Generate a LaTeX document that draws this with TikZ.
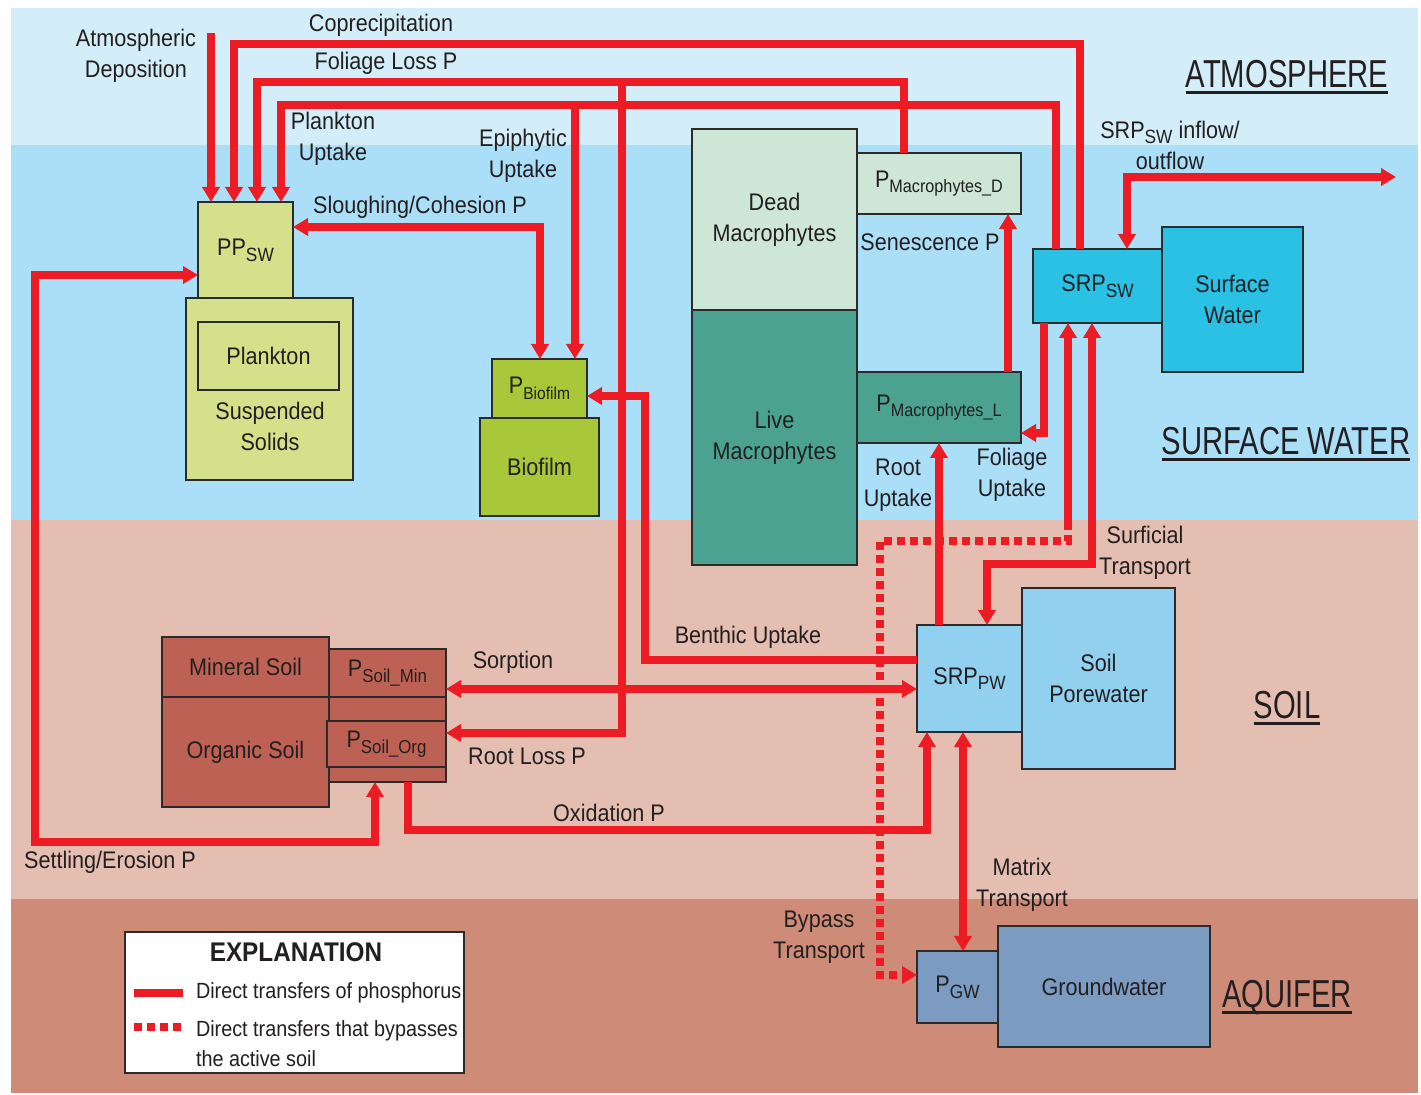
\documentclass[tikz,border=0pt]{standalone}
\usepackage{fontspec}
\setmainfont[FakeStretch=0.9]{Liberation Sans}
\newfontfamily\titlefont[FakeStretch=0.75]{Liberation Sans}
\usetikzlibrary{arrows.meta}
\definecolor{atmc}{HTML}{D4EEF9}
\definecolor{swc}{HTML}{ABDFF8}
\definecolor{soilc}{HTML}{E4BEB1}
\definecolor{aqc}{HTML}{CE8C78}
\definecolor{redc}{HTML}{ED1C24}
\definecolor{txt}{HTML}{231F20}
\definecolor{edge}{HTML}{2B2B2B}
\definecolor{ppc}{HTML}{D4E08A}
\definecolor{bioc}{HTML}{A8C83A}
\definecolor{deadc}{HTML}{CDE6D5}
\definecolor{livec}{HTML}{4CA290}
\definecolor{srpswc}{HTML}{2AC1E5}
\definecolor{srppwc}{HTML}{91D0EE}
\definecolor{soilbox}{HTML}{BE6155}
\definecolor{gwc}{HTML}{7B9BC0}
\newcommand\subt[2][0.8]{\raisebox{-0.45ex}{\scalebox{#1}{#2}}}
\begin{document}
\begin{tikzpicture}[x=0.5pt,y=-0.5pt,
  every node/.style={text=txt, font=\fontsize{12}{15.5}\selectfont, inner sep=0pt, outer sep=0pt},
  box/.style={draw=edge, line width=1pt, align=center},
  lbl/.style={align=center},
  ttl/.style={anchor=base, font=\titlefont\fontsize{19.5}{20}\selectfont},
  flow/.style={draw=redc, line width=4.2pt},
  tip/.tip={Triangle[width=8.5pt,length=7.5pt]},
  arr/.style={flow, -tip},
  dbl/.style={flow, tip-tip},
  dotflow/.style={draw=redc, line width=3.8pt, dash pattern=on 4pt off 2.5pt},
  dotarr/.style={dotflow, -tip}]
\useasboundingbox (0,0) rectangle (1421,1095);
% backgrounds
\fill[white] (0,0) rectangle (1421,1095);
\fill[atmc] (11,8) rectangle (1418,145);
\fill[swc] (11,145) rectangle (1418,520);
\fill[soilc] (11,520) rectangle (1418,899);
\fill[aqc] (11,899) rectangle (1418,1093);

% titles
\node[ttl] (tatm) at (1287,88) {ATMOSPHERE};
\node[ttl] (tsw) at (1286,455) {SURFACE WATER};
\node[ttl] (tsoil) at (1287,719) {SOIL};
\node[ttl] (taq) at (1287,1008) {AQUIFER};
\foreach \t in {tatm,tsw,tsoil,taq}
  \draw[txt, line width=1.5pt] ([yshift=-2.5pt]\t.base west) -- ([yshift=-2.5pt]\t.base east);

% boxes
\node[box, fill=ppc, minimum width=83.5pt, minimum height=91pt] (ss) at (269.5,389) {};
\node[box, fill=ppc, minimum width=47.5pt, minimum height=48pt] (ppsw) at (245.5,250) {PP\subt{SW}};
\node[box, fill=ppc, minimum width=70.5pt, minimum height=34pt] (plank) at (268.5,356) {Plankton};
\node[lbl] (sslbl) at (270,426) {Suspended\\Solids};
\node[box, fill=bioc, minimum width=47.5pt, minimum height=29.5pt] (pbio) at (539.5,388.5) {P\subt[0.72]{Biofilm}};
\node[box, fill=bioc, minimum width=59.5pt, minimum height=49pt] (bio) at (539.5,467) {Biofilm};
\node[box, fill=deadc, minimum width=82.5pt, minimum height=90.5pt] (dead) at (774.5,219.5) {Dead\\Macrophytes};
\node[box, fill=livec, minimum width=82.5pt, minimum height=127.5pt] (live) at (774.5,437.5) {Live\\Macrophytes};
\node[box, fill=deadc, minimum width=82pt, minimum height=30.5pt] (pmd) at (939,183.5) {P\subt[0.75]{Macrophytes\_D}};
\node[box, fill=livec, minimum width=82pt, minimum height=35.5pt] (pml) at (939,407.5) {P\subt[0.75]{Macrophytes\_L}};
\node[box, fill=srpswc, minimum width=64.5pt, minimum height=37pt] (srpsw) at (1097.5,286) {SRP\subt{SW}};
\node[box, fill=srpswc, minimum width=70.5pt, minimum height=72.5pt] (sw) at (1232.5,299.5) {Surface\\Water};
\node[box, fill=srppwc, minimum width=52.5pt, minimum height=53.5pt] (srppw) at (969.5,678.5) {SRP\subt{PW}};
\node[box, fill=srppwc, minimum width=76.5pt, minimum height=90.5pt] (spw) at (1098.5,678.5) {Soil\\Porewater};
\node[box, fill=gwc, minimum width=40.5pt, minimum height=36pt] (pgw) at (957.5,987) {P\subt{GW}};
\node[box, fill=gwc, minimum width=106pt, minimum height=60.5pt] (gw) at (1104,986.5) {Groundwater};
\node[box, fill=soilbox, minimum width=83.5pt, minimum height=30pt] (mineral) at (245.5,667) {Mineral Soil};
\node[box, fill=soilbox, minimum width=83.5pt, minimum height=55pt] (organic) at (245.5,752) {Organic Soil};
\node[box, fill=soilbox, minimum width=58.5pt, minimum height=66.5pt] (psoil) at (387.5,715.5) {};
\node[box, fill=soilbox, minimum width=58.5pt, minimum height=24pt] (psmin) at (387.5,673) {P\subt[0.78]{Soil\_Min}};
\node[box, fill=soilbox, minimum width=59.5pt, minimum height=23pt] (psorg) at (386.5,744) {P\subt[0.78]{Soil\_Org}};

% connector coordinates
\coordinate (atmS) at (211,33);
\coordinate (cpL) at (234,44);
\coordinate (cpR) at (1080,44);
\coordinate (flL) at (257,82);
\coordinate (flR) at (904,82);
\coordinate (flB) at (622,82);
\coordinate (rlC) at (622,733);
\coordinate (puL) at (281,105);
\coordinate (puR) at (1056,105);
\coordinate (epi) at (575,105);
\coordinate (slR) at (540,227);
\coordinate (seA) at (35,275);
\coordinate (seB) at (35,842);
\coordinate (seC) at (375,842);
\coordinate (beA) at (645,660);
\coordinate (beB) at (645,396);
\coordinate (soY) at (500,689);
\coordinate (oxA) at (408,830);
\coordinate (oxB) at (927,830);
\coordinate (ru) at (939,550);
\coordinate (sen) at (1008,300);
\coordinate (fuA) at (1044,433);
\coordinate (stA) at (1092,564);
\coordinate (stB) at (987,564);
\coordinate (byA) at (1068,522);
\coordinate (byB) at (1068,541);
\coordinate (byC) at (880,541);
\coordinate (byD) at (880,975);
\coordinate (mt) at (963,850);
\coordinate (ioA) at (1127,177);
\coordinate (ioB) at (1396,177);

% connectors
\draw[arr] (atmS) -- (atmS |- ppsw.north);
\draw[arr] (cpR |- srpsw.north) -- (cpR) -- (cpL) -- (cpL |- ppsw.north);
\draw[arr] (flR |- pmd.north) -- (flR) -- (flL) -- (flL |- ppsw.north);
\draw[arr] (flB) -- (rlC) -- (rlC -| psorg.east);
\draw[arr] (puR |- srpsw.north) -- (puR) -- (puL) -- (puL |- ppsw.north);
\draw[arr] (epi) -- (epi |- pbio.north);
\draw[dbl] (slR -| ppsw.east) -- (slR) -- (slR |- pbio.north);
\draw[dbl] (seA -| ppsw.west) -- (seA) -- (seB) -- (seC) -- (seC |- psoil.south);
\draw[arr] (beA -| srppw.west) -- (beA) -- (beB) -- (beB -| pbio.east);
\draw[dbl] (soY -| psmin.east) -- (soY -| srppw.west);
\draw[arr] (oxA |- psoil.south) -- (oxA) -- (oxB) -- (oxB |- srppw.south);
\draw[arr] (ru |- srppw.north) -- (ru |- pml.south);
\draw[arr] (sen |- pml.north) -- (sen |- pmd.south);
\draw[arr] (fuA |- srpsw.south) -- (fuA) -- (fuA -| pml.east);
\draw[dbl] (stA |- srpsw.south) -- (stA) -- (stB) -- (stB |- srppw.north);
\draw[flow, tip-] (byA |- srpsw.south) -- (byA);
\draw[dotarr] (byA) -- (byB) -- (byC) -- (byD) -- (byD -| pgw.west);
\draw[dbl] (mt |- srppw.south) -- (mt |- pgw.north);
\draw[dbl] (ioA |- srpsw.north) -- (ioA) -- (ioB);

% labels
\node[lbl] (lAtm) at (136,56) {Atmospheric\\Deposition};
\node (lCop) at (381,25) {Coprecipitation};
\node (lFol) at (386,63) {Foliage Loss P};
\node[lbl] (lPlk) at (333,139) {Plankton\\Uptake};
\node[lbl] (lEpi) at (523,156) {Epiphytic\\Uptake};
\node (lSlo) at (420,207) {Sloughing/Cohesion P};
\node (lSen) at (930,242) {Senescence P};
\node[lbl] (lIO) at (1170,145) {SRP\subt{SW} inflow/\\outflow};
\node[lbl] (lRoot) at (898,485) {Root\\Uptake};
\node[lbl] (lFU) at (1012,475) {Foliage\\Uptake};
\node[lbl] (lSurf) at (1145,553) {Surficial\\Transport};
\node (lBen) at (748,637) {Benthic Uptake};
\node (lSorp) at (513,662) {Sorption};
\node (lRL) at (527,756) {Root Loss P};
\node (lOx) at (609,813) {Oxidation P};
\node (lSet) at (110,862) {Settling/Erosion P};
\node[lbl] (lBy) at (819,937) {Bypass\\Transport};
\node[lbl] (lMat) at (1022,885) {Matrix\\Transport};

% legend
\node[draw=edge, line width=1pt, fill=white, minimum width=169.5pt, minimum height=70.5pt] (legend) at (294.5,1002.5) {};
\node[font=\bfseries\fontsize{13.5}{15}\selectfont] (lgT) at (296,952) {EXPLANATION};
\coordinate (lgA) at (134,993);
\coordinate (lgB) at (183,993);
\coordinate (lgC) at (134,1027);
\coordinate (lgD) at (183,1027);
\draw[flow] (lgA) -- (lgB);
\draw[dotflow] (lgC) -- (lgD);
\node[anchor=west, font=\fontsize{11}{15}\selectfont] (lg1) at (196,993) {Direct transfers of phosphorus};
\node[anchor=west, align=left, font=\fontsize{11}{15}\selectfont] (lg2) at (196,1044) {Direct transfers that bypasses\\the active soil};
\end{tikzpicture}
\end{document}
